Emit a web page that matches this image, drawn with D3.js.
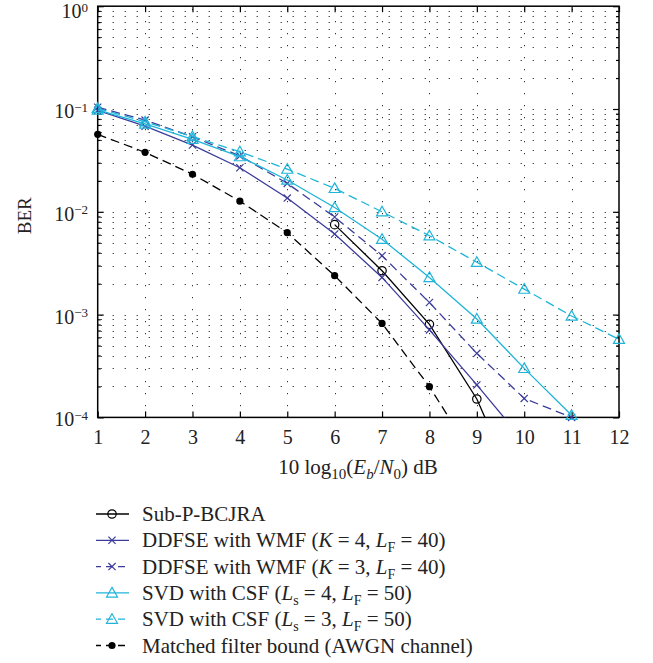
<!DOCTYPE html>
<html>
<head>
<meta charset="utf-8">
<script src="https://cdn.jsdelivr.net/npm/d3@7"></script>
<style>
  body { margin: 0; background: #fff; }
  svg { font-family: "Liberation Serif", "DejaVu Serif", serif; }
</style>
</head>
<body>
<svg id="chart" width="653" height="663"></svg>
<script>

// Data.

const xTicks = [1, 2, 3, 4, 5, 6, 7, 8, 9, 10, 11, 12];
const yMajor = [1, 1e-1, 1e-2, 1e-3, 1e-4];
const yExp = [0, -1, -2, -3, -4];

const subX = [6, 7, 8, 9, 10];
const subBer = [7.5e-3, 2.67e-3, 8.05e-4, 1.51e-4, 1.35e-5];

const k4X = [1, 2, 3, 4, 5, 6, 7, 8, 9, 10];
const k4Ber = [0.097, 0.068, 0.0446, 0.0268, 0.0136, 6.08e-3, 2.3e-3, 7.1e-4, 2.07e-4, 5.8e-5];

const k3X = [1, 2, 3, 4, 5, 6, 7, 8, 9, 10, 11];
const k3Ber = [0.104, 0.078, 0.0537, 0.035, 0.0189, 8.9e-3, 3.74e-3, 1.31e-3, 4.2e-4, 1.53e-4, 1.0e-4];

const ls4X = [1, 2, 3, 4, 5, 6, 7, 8, 9, 10, 11];
const ls4Ber = [0.098, 0.0715, 0.0507, 0.0344, 0.0204, 0.011, 5.4e-3, 2.3e-3, 9.06e-4, 3.0e-4, 1.05e-4];

const ls3X = [1, 2, 3, 4, 5, 6, 7, 8, 9, 10, 11, 12];
const ls3Ber = [0.1016, 0.075, 0.054, 0.0384, 0.026, 0.0169, 0.01, 5.85e-3, 3.23e-3, 1.77e-3, 9.7e-4, 5.75e-4];

const mfbX = [1, 2, 3, 4, 5, 6, 7, 8, 9];
const mfbBer = [0.0567, 0.0379, 0.0232, 0.0127, 6.26e-3, 2.39e-3, 8.2e-4, 1.99e-4, 3.7e-5];

const BLUE = "#3c3c9c";
const CYAN = "#1fb4d8";

const series = [
    { xs: subX, ys: subBer, color: "#000", dash: null, marker: "circle" },
    { xs: k4X, ys: k4Ber, color: BLUE, dash: null, marker: "cross" },
    { xs: k3X, ys: k3Ber, color: BLUE, dash: "9,5", marker: "cross" },
    { xs: ls4X, ys: ls4Ber, color: CYAN, dash: null, marker: "triangle" },
    { xs: ls3X, ys: ls3Ber, color: CYAN, dash: "9,5", marker: "triangle" },
    { xs: mfbX, ys: mfbBer, color: "#000", dash: "9,5", marker: "dot" },
];

//----------------------------------------------------------------------------//
//                                   SCALES                                   //
//----------------------------------------------------------------------------//

const svg = d3.select("#chart");

const margin = { L: 97.7, R: 619, T: 6.2, B: 417.4 };

const x = d3.scaleLinear().domain([1, 12]).range([margin.L, margin.R]);
const y = d3.scaleLog().domain([1e-4, 1]).range([margin.B, margin.T]);

// All 1..9 x 10^k values for minor ticks.
const yMinor = y.ticks().filter(v => !yMajor.some(m => Math.abs(m - v) / m < 1e-9));

// Grid.

const grid = svg.append("g")
    .attr("stroke", "#000")
    .attr("stroke-width", 1)
    .attr("stroke-dasharray", "1,11");

grid.selectAll("line.h")
    .data(yMajor.concat(yMinor))
    .join("line")
        .attr("x1", margin.L + 3)
        .attr("x2", margin.R)
        .attr("y1", d => Math.round(y(d)) + 0.5)
        .attr("y2", d => Math.round(y(d)) + 0.5);

grid.selectAll("line.v")
    .data(xTicks.slice(1, -1))
    .join("line")
        .attr("x1", d => Math.round(x(d)) + 0.5)
        .attr("x2", d => Math.round(x(d)) + 0.5)
        .attr("y1", margin.T + 3)
        .attr("y2", margin.B);

//----------------------------------------------------------------------------//
//                                    AXES                                    //
//----------------------------------------------------------------------------//

const axes = svg.append("g");

axes.append("g")
    .attr("transform", `translate(0, ${margin.B})`)
    .call(d3.axisBottom(x).tickValues(xTicks).tickSize(-6).tickSizeOuter(0).tickPadding(12));

axes.append("g")
    .attr("transform", `translate(0, ${margin.T})`)
    .call(d3.axisTop(x).tickValues(xTicks).tickSize(-6).tickSizeOuter(0).tickFormat(""));

axes.append("g")
    .attr("transform", `translate(${margin.L}, 0)`)
    .call(d3.axisLeft(y).tickValues(yMajor).tickSize(-6).tickSizeOuter(0).tickFormat(""));

axes.append("g")
    .attr("transform", `translate(${margin.L}, 0)`)
    .call(d3.axisLeft(y).tickValues(yMinor).tickSize(-3).tickSizeOuter(0).tickFormat(""));

axes.append("g")
    .attr("transform", `translate(${margin.R}, 0)`)
    .call(d3.axisRight(y).tickValues(yMajor).tickSize(-6).tickSizeOuter(0).tickFormat(""));

axes.append("g")
    .attr("transform", `translate(${margin.R}, 0)`)
    .call(d3.axisRight(y).tickValues(yMinor).tickSize(-3).tickSizeOuter(0).tickFormat(""));

axes.selectAll(".domain").remove();
axes.selectAll(".tick line").attr("stroke", "#000").attr("stroke-width", 1.2);
axes.selectAll(".tick text")
    .attr("font-family", "Liberation Serif")
    .attr("font-size", 20)
    .attr("fill", "#222");

// Box.
svg.append("rect")
    .attr("x", margin.L)
    .attr("y", margin.T)
    .attr("width", margin.R - margin.L)
    .attr("height", margin.B - margin.T)
    .attr("fill", "none")
    .attr("stroke", "#000")
    .attr("stroke-width", 1.5);

// y tick labels with superscripts.
const yLab = svg.append("g")
    .attr("font-size", 20)
    .attr("fill", "#222")
    .attr("text-anchor", "end");

yMajor.forEach((v, i) => {
    const t = yLab.append("text")
        .attr("x", 88)
        .attr("y", Math.max(y(v) + 9, 18));
    t.append("tspan").text("10");
    t.append("tspan")
        .attr("font-size", 13)
        .attr("dy", -6.5)
        .text(yExp[i] < 0 ? "\u2212" + (-yExp[i]) : yExp[i]);
});

// Axis titles.
svg.append("text")
    .attr("transform", `translate(31, ${(margin.T + margin.B) / 2 + 4}) rotate(-90)`)
    .attr("text-anchor", "middle")
    .attr("font-size", 19)
    .attr("fill", "#222")
    .text("BER");

const xt = svg.append("text")
    .attr("x", 358)
    .attr("y", 474)
    .attr("text-anchor", "middle")
    .attr("font-size", 21)
    .attr("fill", "#222");
xt.append("tspan").text("10 log");
xt.append("tspan").attr("font-size", 15).attr("dy", 5).text("10");
xt.append("tspan").attr("dy", -5).text("(");
xt.append("tspan").attr("font-style", "italic").text("E");
xt.append("tspan").attr("font-style", "italic").attr("font-size", 15).attr("dy", 5).text("b");
xt.append("tspan").attr("dy", -5).text("/");
xt.append("tspan").attr("font-style", "italic").text("N");
xt.append("tspan").attr("font-size", 15).attr("dy", 5).text("0");
xt.append("tspan").attr("dy", -5).text(") dB");

//----------------------------------------------------------------------------//
//                                    PLOT                                    //
//----------------------------------------------------------------------------//

svg.append("clipPath")
    .attr("id", "clip")
    .append("rect")
        .attr("x", margin.L)
        .attr("y", margin.T)
        .attr("width", margin.R - margin.L)
        .attr("height", margin.B - margin.T);

const line = d3.line()
    .x(d => x(d[0]))
    .y(d => y(d[1]));

function drawMarker(g, kind, color, cx, cy) {
    if (kind === "circle") {
        g.append("circle").attr("cx", cx).attr("cy", cy).attr("r", 4.2)
            .attr("fill", "none").attr("stroke", color).attr("stroke-width", 1.2);
    } else if (kind === "dot") {
        g.append("circle").attr("cx", cx).attr("cy", cy).attr("r", 3.6)
            .attr("fill", color);
    } else if (kind === "cross") {
        const s = 3.6;
        g.append("path")
            .attr("d", `M${cx - s},${cy - s}L${cx + s},${cy + s}M${cx - s},${cy + s}L${cx + s},${cy - s}`)
            .attr("stroke", color).attr("stroke-width", 1.2);
    } else if (kind === "triangle") {
        const s = 5.5;
        g.append("path")
            .attr("d", `M${cx},${cy - s}L${cx + s},${cy + s * 0.75}L${cx - s},${cy + s * 0.75}Z`)
            .attr("fill", "none").attr("stroke", color).attr("stroke-width", 1.2);
    }
}

const plot = svg.append("g");

series.forEach(s => {
    const pts = s.xs.map((v, i) => [v, s.ys[i]]);
    plot.append("path")
        .attr("clip-path", "url(#clip)")
        .attr("d", line(pts))
        .attr("fill", "none")
        .attr("stroke", s.color)
        .attr("stroke-width", 1.3)
        .attr("stroke-dasharray", s.dash);
    const mg = plot.append("g");
    pts.filter(p => p[1] >= 0.98e-4)
        .forEach(p => drawMarker(mg, s.marker, s.color, x(p[0]), y(p[1])));
});

//----------------------------------------------------------------------------//
//                                   LEGEND                                   //
//----------------------------------------------------------------------------//

const legendRows = [
    [["Sub-P-BCJRA"]],
    [["DDFSE with WMF ("], ["K", "i"], [" = 4, "], ["L", "i"], ["F", "sub"], [" = 40)"]],
    [["DDFSE with WMF ("], ["K", "i"], [" = 3, "], ["L", "i"], ["F", "sub"], [" = 40)"]],
    [["SVD with CSF ("], ["L", "i"], ["s", "sub"], [" = 4, "], ["L", "i"], ["F", "sub"], [" = 50)"]],
    [["SVD with CSF ("], ["L", "i"], ["s", "sub"], [" = 3, "], ["L", "i"], ["F", "sub"], [" = 50)"]],
    [["Matched filter bound (AWGN channel)"]],
];

const legend = svg.append("g");

series.forEach((s, i) => {
    const ly = 514 + i * 26.3;
    legend.append("line")
        .attr("x1", 96).attr("x2", 129)
        .attr("y1", ly).attr("y2", ly)
        .attr("stroke", s.color)
        .attr("stroke-width", 1.3)
        .attr("stroke-dasharray", s.dash ? "7,5" : null)
        .attr("stroke-dashoffset", s.dash ? 2 : null);
    drawMarker(legend, s.marker, s.color, 112, ly);

    const t = legend.append("text")
        .attr("x", 142)
        .attr("y", ly + 7)
        .attr("font-size", 21)
        .attr("fill", "#222");
    let shift = 0;
    legendRows[i].forEach(([str, kind]) => {
        const sp = t.append("tspan").text(str);
        if (kind === "i") sp.attr("font-style", "italic");
        if (kind === "sub") {
            sp.attr("font-size", 14).attr("dy", 5 - shift);
            shift = 5;
        } else if (shift) {
            sp.attr("dy", -shift);
            shift = 0;
        }
    });
});

</script>
</body>
</html>
